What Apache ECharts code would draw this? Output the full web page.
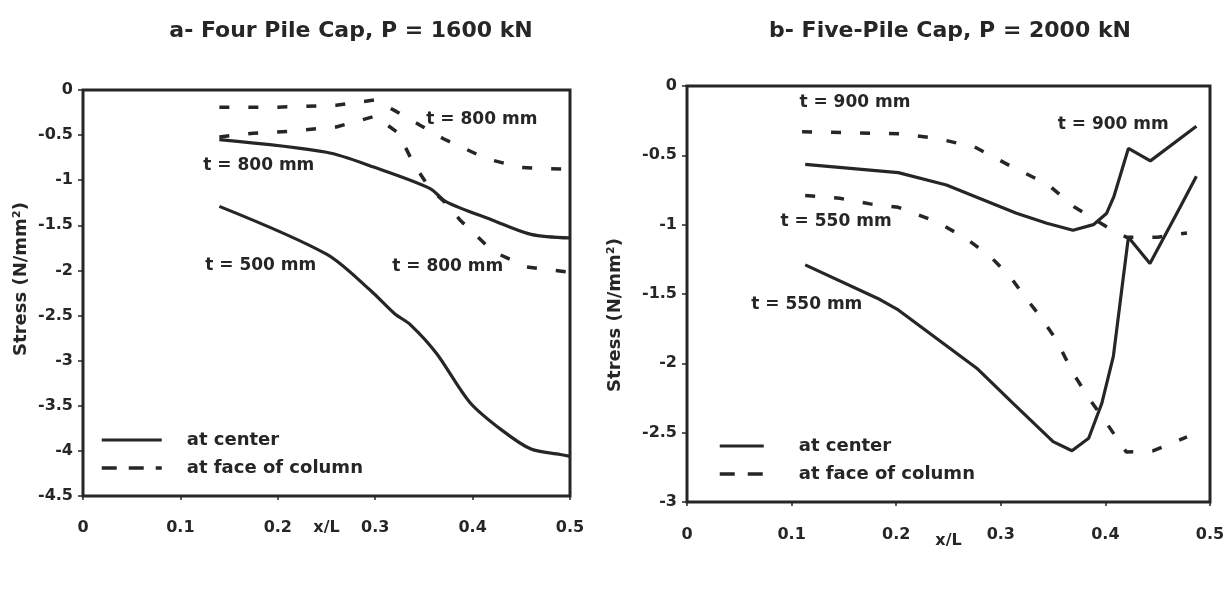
<!DOCTYPE html>
<html><head><meta charset="utf-8">
<script src="https://cdn.jsdelivr.net/npm/echarts@6/dist/echarts.min.js"></script>
<style>html,body{margin:0;padding:0;background:#fff}#c{width:1228px;height:600px}</style>
</head><body><div id="c"></div>
<script>
// ---------- text ----------
const titles = ['a- Four Pile Cap, P = 1600 kN', 'b- Five-Pile Cap, P = 2000 kN'];
const legendNames = ['at center', 'at face of column'];
const xName = 'x/L';
const yName = 'Stress (N/mm²)';

// ---------- chart a : Four pile cap ----------
const aCenterUpperX = [0.14, 0.25, 0.30, 0.356, 0.373, 0.42, 0.46, 0.5];
const aCenterUpperY = [-0.55, -0.69, -0.86, -1.09, -1.24, -1.44, -1.60, -1.64];
const aCenterLowerX = [0.14, 0.25, 0.295, 0.32, 0.336, 0.363, 0.397, 0.43, 0.46, 0.49, 0.5];
const aCenterLowerY = [-1.29, -1.82, -2.22, -2.48, -2.60, -2.92, -3.46, -3.77, -3.98, -4.04, -4.06];
const aFaceUpperX = [0.14, 0.2, 0.26, 0.30, 0.322, 0.346, 0.37, 0.414, 0.45, 0.5];
const aFaceUpperY = [-0.19, -0.19, -0.17, -0.11, -0.24, -0.39, -0.54, -0.76, -0.86, -0.88];
const aFaceLowerX = [0.14, 0.175, 0.21, 0.26, 0.30, 0.324, 0.339, 0.356, 0.373, 0.387, 0.421, 0.455, 0.5];
const aFaceLowerY = [-0.52, -0.48, -0.46, -0.41, -0.29, -0.48, -0.81, -1.09, -1.26, -1.44, -1.79, -1.96, -2.02];
const aNotes = ['t = 800 mm', 't = 800 mm', 't = 500 mm', 't = 800 mm'];
const aNoteX = [0.41, 0.181, 0.183, 0.375];
const aNoteY = [-0.33, -0.84, -1.95, -1.96];

// ---------- chart b : Five pile cap ----------
const bCenterUpperX = [0.113, 0.202, 0.248, 0.315, 0.344, 0.369, 0.3885, 0.401, 0.408, 0.422, 0.443, 0.487];
const bCenterUpperY = [-0.565, -0.625, -0.714, -0.918, -0.99, -1.04, -1.00, -0.92, -0.80, -0.45, -0.54, -0.29];
const bCenterLowerX = [0.113, 0.1845, 0.202, 0.277, 0.312, 0.35, 0.368, 0.384, 0.3965, 0.4076, 0.4156, 0.422, 0.4426, 0.471, 0.487];
const bCenterLowerY = [-1.29, -1.54, -1.615, -2.035, -2.29, -2.565, -2.63, -2.54, -2.29, -1.95, -1.47, -1.09, -1.28, -0.88, -0.65];
const bFaceUpperX = [0.11, 0.205, 0.24, 0.275, 0.31, 0.345, 0.37, 0.40, 0.42, 0.45, 0.478];
const bFaceUpperY = [-0.33, -0.345, -0.38, -0.44, -0.58, -0.71, -0.87, -1.01, -1.09, -1.09, -1.06];
const bFaceLowerX = [0.113, 0.146, 0.175, 0.202, 0.239, 0.267, 0.29, 0.309, 0.32, 0.3375, 0.353, 0.369, 0.385, 0.401, 0.42, 0.446, 0.478];
const bFaceLowerY = [-0.79, -0.81, -0.85, -0.875, -0.98, -1.10, -1.23, -1.375, -1.49, -1.66, -1.83, -2.07, -2.26, -2.43, -2.64, -2.63, -2.53];
const bNotes = ['t = 900 mm', 't = 900 mm', 't = 550 mm', 't = 550 mm'];
const bNoteX = [0.161, 0.408, 0.143, 0.115];
const bNoteY = [-0.123, -0.281, -0.978, -1.579];

// ---------- styling ----------
const INK = '#262626';
const FONT = '"DejaVu Sans", sans-serif';
const zip = (xs, ys) => xs.map((x, i) => [x, ys[i]]);
const dash = [10, 19];

function lineSeries(name, xs, ys, g, dashed, smooth) {
  return {
    type: 'line', name, xAxisIndex: g, yAxisIndex: g,
    data: zip(xs, ys), symbol: 'none', showSymbol: false, smooth: smooth || false,
    lineStyle: { color: INK, width: dashed ? 3.5 : 3.2, type: dashed ? dash : 'solid' },
    itemStyle: { color: INK }, z: 3
  };
}
function noteSeries(notes, xs, ys, g) {
  return {
    type: 'scatter', name: 'notes' + g, xAxisIndex: g, yAxisIndex: g, silent: true,
    symbol: 'circle', symbolSize: 1, itemStyle: { color: 'rgba(0,0,0,0)', opacity: 1 },
    data: notes.map((t, i) => ({ name: t, value: [xs[i], ys[i]] })),
    label: { show: true, position: [0, 0], align: 'center', verticalAlign: 'middle',
      formatter: '{b}', color: INK, opacity: 1, textBorderWidth: 0,
      fontFamily: FONT, fontWeight: 'bold', fontSize: 17 },
    z: 5
  };
}
function xAx(g, margin, gap) {
  return {
    gridIndex: g, type: 'value', min: 0, max: 0.5, interval: 0.1,
    axisLine: { show: false, onZero: false }, splitLine: { show: false },
    axisTick: { show: true, length: 4, lineStyle: { color: INK, width: 1.5 } },
    axisLabel: { margin, color: INK, fontFamily: FONT, fontWeight: 'bold', fontSize: 16 },
    name: xName, nameLocation: 'middle', nameGap: gap, nameMoveOverlap: false,
    nameTextStyle: { color: INK, fontFamily: FONT, fontWeight: 'bold', fontSize: 16 }
  };
}
function yAx(g, min, gap, pad) {
  return {
    gridIndex: g, type: 'value', min, max: 0, interval: 0.5,
    axisLine: { show: false, onZero: false }, splitLine: { show: false },
    axisTick: { show: true, length: 5, lineStyle: { color: INK, width: 1.5 } },
    axisLabel: { margin: 10, color: INK, fontFamily: FONT, fontWeight: 'bold', fontSize: 16 },
    name: yName, nameLocation: 'middle', nameGap: gap, nameRotate: 90, nameMoveOverlap: false,
    nameTextStyle: { color: INK, fontFamily: FONT, fontWeight: 'bold', fontSize: 18, padding: pad }
  };
}
function legendOf(left, top, w, faceDash, pad) {
  const hidden = { color: 'rgba(0,0,0,0)', borderColor: 'rgba(0,0,0,0)', borderWidth: 0, opacity: 0 };
  return {
    left, top, orient: 'vertical', padding: 0, itemWidth: w, itemHeight: 14, itemGap: 10,
    selectedMode: false,
    data: [
      { name: legendNames[0], itemStyle: hidden, lineStyle: { type: 'solid', width: 3.2, color: INK } },
      { name: legendNames[1], itemStyle: hidden, lineStyle: { type: faceDash, width: 3.5, color: INK } }
    ],
    textStyle: { color: INK, fontFamily: FONT, fontWeight: 'bold', fontSize: 18, lineHeight: 18, padding: [0, 0, 0, pad] }
  };
}

const chart = echarts.init(document.getElementById('c'), null, { renderer: 'canvas' });
chart.setOption({
  animation: false,
  backgroundColor: '#ffffff',
  title: [
    { text: titles[0], left: 346, top: 15, textAlign: 'center',
      textStyle: { color: INK, fontFamily: FONT, fontWeight: 'bold', fontSize: 22 } },
    { text: titles[1], left: 945, top: 15, textAlign: 'center',
      textStyle: { color: INK, fontFamily: FONT, fontWeight: 'bold', fontSize: 22 } }
  ],
  legend: [legendOf(100, 431, 60, [15, 12], 20), legendOf(718, 437, 44, [15, 13], 30)],
  grid: [
    { left: 83, top: 90, width: 487, height: 406, show: true, borderColor: INK, borderWidth: 3, backgroundColor: 'transparent' },
    { left: 687, top: 86, width: 523, height: 416, show: true, borderColor: INK, borderWidth: 3, backgroundColor: 'transparent' }
  ],
  xAxis: [xAx(0, 24, 24), xAx(1, 25, 31)],
  yAxis: [yAx(0, -4.5, 53, [0, 0, 0, 28]), yAx(1, -3, 63, [0, 42, 0, 0])],
  series: [
    lineSeries(legendNames[0], aCenterUpperX, aCenterUpperY, 0, false, 0.3),
    lineSeries(legendNames[0], aCenterLowerX, aCenterLowerY, 0, false, 0.3),
    lineSeries(legendNames[1], aFaceUpperX, aFaceUpperY, 0, true),
    lineSeries(legendNames[1], aFaceLowerX, aFaceLowerY, 0, true),
    noteSeries(aNotes, aNoteX, aNoteY, 0),
    lineSeries(legendNames[0], bCenterUpperX, bCenterUpperY, 1, false),
    lineSeries(legendNames[0], bCenterLowerX, bCenterLowerY, 1, false),
    lineSeries(legendNames[1], bFaceUpperX, bFaceUpperY, 1, true),
    lineSeries(legendNames[1], bFaceLowerX, bFaceLowerY, 1, true),
    noteSeries(bNotes, bNoteX, bNoteY, 1)
  ]
});
</script></body></html>
